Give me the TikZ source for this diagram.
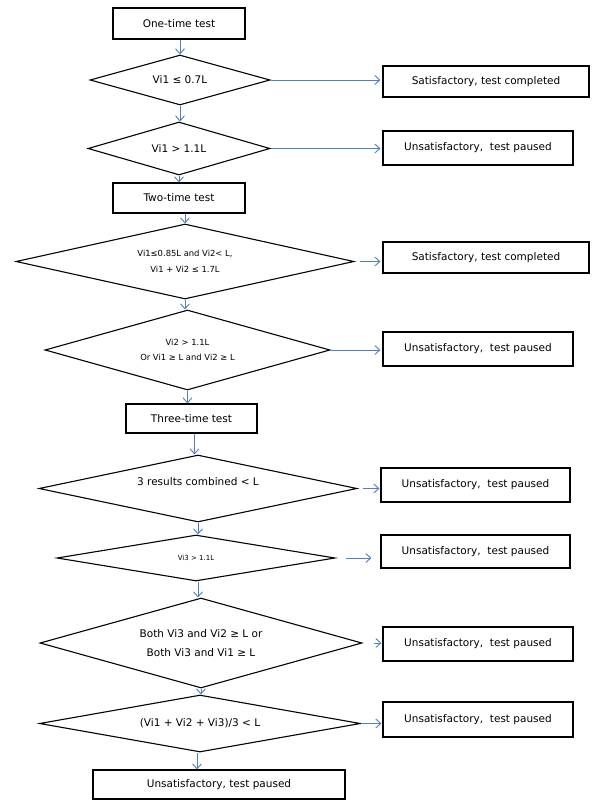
\documentclass[tikz,border=0pt]{standalone}
\usepackage{fontspec}
\setmainfont{DejaVu Sans}
\usetikzlibrary{shapes.geometric,arrows.meta}
\definecolor{arrblue}{RGB}{79,129,189}
\begin{document}
\begin{tikzpicture}[x=1pt,y=-1pt,
  box/.style={draw=black,line width=1.1pt,rectangle,inner sep=0pt,font=\fontsize{10.5}{12.6}\selectfont},
  dia/.style={draw=black,line width=1.1pt,diamond,inner sep=0pt,align=center,font=\fontsize{10.5}{12.6}\selectfont},
  arr/.style={draw=arrblue,line width=0.9pt,-{Straight Barb[length=5pt,width=9pt]}},
  ]
\useasboundingbox (0,0) rectangle (592,808);
% main column
\node[box,minimum width=132pt,minimum height=31pt] (b1) at (179,23.5) {One-time test};
\node[dia,minimum width=180pt,minimum height=50pt,aspect=3.6] (d1) at (180,80) {Vi1 ≤ 0.7L};
\node[dia,minimum width=182pt,minimum height=53pt,aspect=3.4] (d2) at (179,148.5) {Vi1 > 1.1L};
\node[box,minimum width=132pt,minimum height=30pt] (b2) at (179,198) {Two-time test};
\node[dia,minimum width=338pt,minimum height=75pt,aspect=4.5,font=\fontsize{8.4}{16}\selectfont] (d3) at (185,261.5) {Vi1≤0.85L and Vi2< L,\\Vi1 + Vi2 ≤ 1.7L};
\node[dia,minimum width=285pt,minimum height=80pt,aspect=3.6,font=\fontsize{8.4}{15}\selectfont] (d4) at (187.5,350) {Vi2 > 1.1L\\Or Vi1 ≥ L and Vi2 ≥ L};
\node[box,minimum width=131pt,minimum height=29pt] (b3) at (191.5,418.5) {Three-time test};
\node[dia,minimum width=318pt,minimum height=67pt,aspect=4.7] (d5) at (198,488.5) {\raisebox{3.5pt}[0pt][0pt]{3 results combined < L}};
\node[dia,minimum width=278pt,minimum height=46pt,aspect=6,font=\fontsize{7}{8.4}\selectfont] (d6) at (196,558) {Vi3 > 1.1L};
\node[dia,minimum width=322pt,minimum height=90pt,aspect=3.6,font=\fontsize{10.5}{19}\selectfont] (d7) at (201,643) {Both Vi3 and Vi2 ≥ L or\\Both Vi3 and Vi1 ≥ L};
\node[dia,minimum width=321pt,minimum height=57pt,aspect=5.6] (d8) at (200,723.5) {(Vi1 + Vi2 + Vi3)/3 < L};
\node[box,minimum width=252pt,minimum height=29pt] (b4) at (219,784.5) {Unsatisfactory, test paused};
% right column
\node[box,minimum width=206pt,minimum height=31pt] (r1) at (486,81.5) {Satisfactory, test completed};
\node[box,minimum width=190pt,minimum height=34pt] (r2) at (478,148) {Unsatisfactory,~ test paused};
\node[box,minimum width=206pt,minimum height=31pt] (r3) at (486,257.5) {Satisfactory, test completed};
\node[box,minimum width=190pt,minimum height=34pt] (r4) at (478,349) {Unsatisfactory,~ test paused};
\node[box,minimum width=189pt,minimum height=34pt] (r5) at (475.5,485) {Unsatisfactory,~ test paused};
\node[box,minimum width=189pt,minimum height=33pt] (r6) at (475.5,551.5) {Unsatisfactory,~ test paused};
\node[box,minimum width=190pt,minimum height=34pt] (r7) at (478,644) {Unsatisfactory,~ test paused};
\node[box,minimum width=190pt,minimum height=35pt] (r8) at (478,719.5) {Unsatisfactory,~ test paused};
% vertical connectors
\draw[arr] (d1.north |- b1.south) -- (d1.north);
\draw[arr] (d1.south) -- (d1.south |- d2.north);
\draw[arr] (d2.south) -- (d2.south |- b2.north);
\draw[arr] (d3.north |- b2.south) -- (d3.north);
\draw[arr] (d3.south) -- (d3.south |- d4.north);
\draw[arr] (d4.south) -- (d4.south |- b3.north);
\draw[arr] ([xshift=3pt]b3.south) -- ([xshift=3pt]b3.south |- d5.north);
\draw[arr] (d5.south) -- (d5.south |- d6.north);
\draw[arr] ([xshift=2pt]d6.south) -- ([xshift=2pt]d6.south |- d7.north);
\draw[arr] (d7.south) -- (d7.south |- d8.north);
\draw[arr] ([xshift=-3pt]d8.south) -- ([xshift=-3pt]d8.south |- b4.north);
% horizontal connectors
\draw[arr,shorten >=2pt] (d1.east) -- (d1.east -| r1.west);
\draw[arr,shorten >=2pt] (d2.east) -- (d2.east -| r2.west);
\draw[arr,shorten <=5pt,shorten >=2pt] (d3.east) -- (d3.east -| r3.west);
\draw[arr,shorten >=2pt] (d4.east) -- (d4.east -| r4.west);
\draw[arr,shorten <=5pt,shorten >=1pt] (d5.east) -- (d5.east -| r5.west);
\draw[arr,shorten <=10pt,shorten >=9pt] (d6.east) -- (d6.east -| r6.west);
\draw[arr,shorten <=11pt,shorten >=1pt] (d7.east) -- (d7.east -| r7.west);
\draw[arr,shorten >=1pt] (d8.east) -- (d8.east -| r8.west);
\end{tikzpicture}
\end{document}
